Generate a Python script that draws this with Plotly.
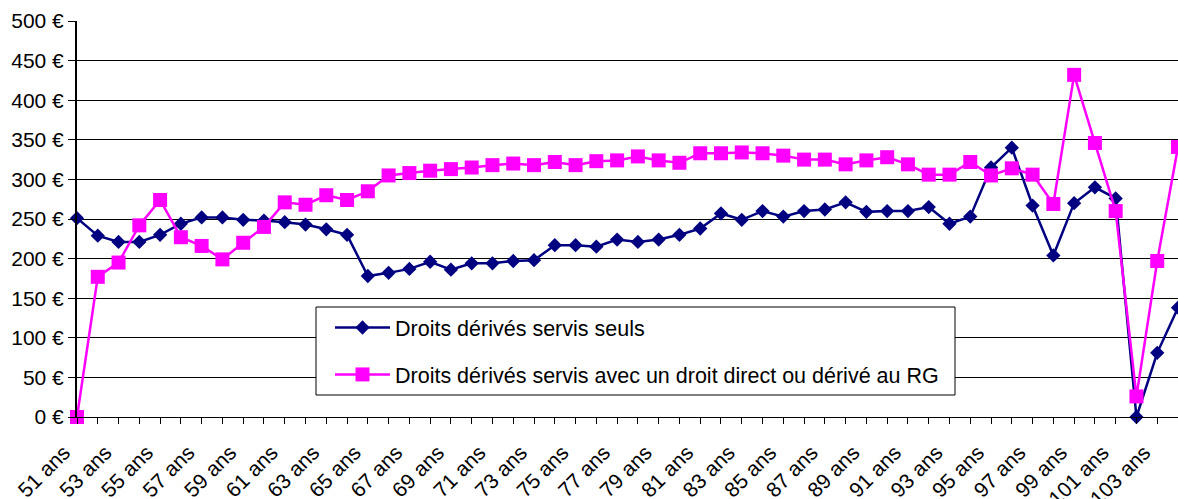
import plotly.graph_objects as go

ages = [f"{a} ans" for a in range(51, 105)]

seuls = [251, 229, 221, 221, 230, 244, 252, 252, 249, 248,
         246, 243, 237, 230, 178, 182, 187, 196, 186, 194,
         194, 197, 198, 217, 217, 215, 224, 221, 224, 230,
         238, 257, 249, 260, 253, 260, 262, 271, 259, 260,
         260, 265, 244, 253, 315, 340, 267, 204, 270, 290,
         276, 0, 81, 138]

avec_rg = [0, 177, 195, 242, 274, 227, 216, 199, 220, 240,
           271, 268, 280, 274, 285, 305, 308, 311, 313, 315,
           318, 320, 318, 322, 318, 323, 324, 329, 324, 321,
           333, 333, 334, 333, 330, 325, 325, 319, 324, 328,
           319, 306, 306, 322, 305, 314, 306, 269, 432, 346,
           260, 26, 197, 341]

y_ticks = list(range(0, 501, 50))
y_labels = [f"{v} €" for v in y_ticks]
x_labels = [lab if i % 2 == 0 else "" for i, lab in enumerate(ages)]

FONT = "Liberation Sans, Arial, sans-serif"

# plot area geometry (pixels) used to place the legend frame
PL, PR, PT, PB = 77, 1178, 21, 417
def px_x(p):
    return (p - PL) / (PR - PL)
def px_y(p):
    return (PB - p) / (PB - PT)

fig = go.Figure()
fig.add_trace(go.Scatter(
    x=ages, y=seuls, mode="lines+markers",
    name="Droits dérivés servis seuls",
    line=dict(color="#000080", width=2.5),
    marker=dict(symbol="diamond", size=11, color="#000080"),
    cliponaxis=False, legendgroup="a"))
fig.add_trace(go.Scatter(
    x=ages, y=avec_rg, mode="lines+markers",
    name="Droits dérivés servis avec un droit direct ou dérivé au RG",
    line=dict(color="#FF00FF", width=2.5),
    marker=dict(symbol="square", size=14, color="#FF00FF"),
    cliponaxis=False, legendgroup="b"))

fig.add_shape(
    type="rect", xref="paper", yref="paper",
    x0=px_x(316), x1=px_x(955), y0=px_y(395), y1=px_y(307),
    line=dict(color="black", width=1), fillcolor="white", layer="above",
)

fig.update_layout(
    width=1178, height=499,
    margin=dict(l=PL, r=0, t=PT, b=499 - PB),
    paper_bgcolor="white", plot_bgcolor="white",
    font=dict(family=FONT, size=20, color="black"),
    showlegend=True,
    legend=dict(
        x=px_x(330), y=px_y(307), xanchor="left", yanchor="top",
        borderwidth=0, bgcolor="rgba(255,255,255,0)",
        font=dict(size=21.5, family=FONT, color="black"),
        traceorder="grouped", tracegroupgap=16, itemwidth=55,
    ),
    xaxis=dict(
        type="category", range=[0, 53], automargin=False,
        tickmode="array", tickvals=ages, ticktext=x_labels,
        tickangle=-45, ticks="outside", ticklen=6, tickcolor="black",
        ticklabelshift=-13, ticklabelstandoff=8,
        showline=True, linecolor="black", linewidth=1,
        showgrid=False, zeroline=False,
        tickfont=dict(size=21, family=FONT, color="black"),
    ),
    yaxis=dict(
        range=[0, 500], automargin=False,
        tickmode="array", tickvals=y_ticks, ticktext=y_labels,
        ticks="outside", ticklen=7, tickcolor="black",
        showline=True, linecolor="black", linewidth=2,
        showgrid=True, gridcolor="black", gridwidth=1,
        zeroline=False,
        tickfont=dict(size=21, family=FONT, color="black"),
    ),
)

fig.write_html(
    "out.html",
    config={"displayModeBar": False},
    post_script="document.body.style.margin='0';document.body.style.overflow='hidden';",
)
